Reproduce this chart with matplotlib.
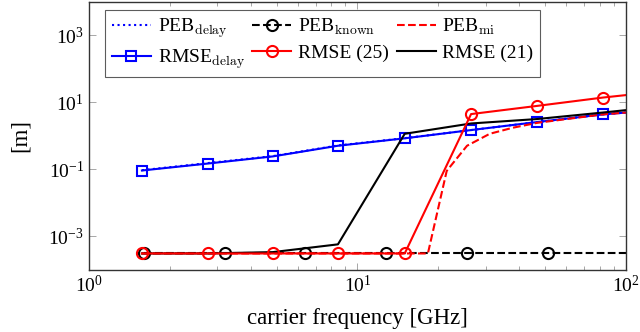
import numpy as np
import matplotlib
matplotlib.use('Agg')
import matplotlib.pyplot as plt

plt.rcParams['font.family'] = ['Liberation Serif', 'DejaVu Serif']
plt.rcParams['mathtext.fontset'] = 'cm'

# frequencies [GHz] of the marked points (last one is the end of the line)
f_main = [1.575, 2.77, 4.84, 8.46, 15.0, 26.5, 46.7, 82.0, 100.0]
rmse_delay = [0.093, 0.15, 0.245, 0.51, 0.85, 1.5, 2.6, 4.4, 5.0]
peb_delay = [0.095, 0.155, 0.25, 0.52, 0.86, 1.5, 2.6, 4.4, 5.0]
rmse_25 = [3.1e-4, 3.1e-4, 3.1e-4, 3.1e-4, 3.1e-4, 4.5, 7.9, 14.0, 16.6]
rmse_21 = [3.1e-4, 3.1e-4, 3.4e-4, 5.8e-4, 1.16, 2.36, 3.2, 5.0, 5.9]

f_known = [1.6, 3.2, 6.4, 12.8, 25.6, 51.2, 100.0]
peb_known = [3.1e-4, 3.1e-4, 3.1e-4, 3.1e-4, 3.1e-4, 3.1e-4, 3.1e-4]

f_mi = [1.575, 18.3, 21.5, 22.3, 25.6, 31.1, 37.9, 46.7, 82.0, 100.0]
peb_mi = [3.1e-4, 3.1e-4, 0.09, 0.13, 0.51, 1.16, 1.76, 2.46, 4.4, 5.0]

fig = plt.figure(figsize=(6.4, 3.32), dpi=100)
ax = fig.add_axes([0.139, 0.187, 0.839, 0.807])

lw = 1.5
h1, = ax.plot(f_main, peb_delay, ':', color='blue', lw=lw, label=r'PEB$_{\mathrm{delay}}$')
h4, = ax.plot(f_main, rmse_delay, '-', color='blue', lw=lw, marker='s', ms=7, mfc='none',
              mew=1.5, markevery=list(range(8)), label=r'RMSE$_{\mathrm{delay}}$')
h2, = ax.plot(f_known, peb_known, '--', color='black', lw=lw, marker='o', ms=8, mfc='none',
              mew=1.5, markevery=list(range(6)), label=r'PEB$_{\mathrm{known}}$')
h3, = ax.plot(f_mi, peb_mi, '--', color='red', lw=lw, label=r'PEB$_{\mathrm{mi}}$')
h6, = ax.plot(f_main, rmse_21, '-', color='black', lw=lw, label='RMSE (21)')
h5, = ax.plot(f_main, rmse_25, '-', color='red', lw=lw, marker='o', ms=8, mfc='none',
              mew=1.5, markevery=list(range(8)), label='RMSE (25)')

ax.set_xscale('log')
ax.set_yscale('log')
ax.set_xlim(1, 100)
ax.set_ylim(1e-4, 1e4)
ax.set_yticks([1e-3, 1e-1, 1e1, 1e3])
ax.yaxis.set_minor_locator(matplotlib.ticker.NullLocator())
ax.tick_params(which='both', direction='in', top=True, right=True, colors='#999999',
               labelcolor='black', labelsize=14, width=0.6)
ax.tick_params(which='major', length=5)
ax.tick_params(which='minor', length=3)
for s in ax.spines.values():
    s.set_linewidth(1.0)
    s.set_color('#333333')

ax.set_xlabel('carrier frequency [GHz]', fontsize=16.5, labelpad=9)
ax.set_ylabel('[m]', fontsize=16.5, labelpad=13)

leg = ax.legend(handles=[h1, h4, h2, h5, h3, h6], ncol=3, loc='upper left',
                bbox_to_anchor=(0.03, 0.97), borderaxespad=0, fontsize=14, frameon=True,
                fancybox=False, edgecolor='#333333', handlelength=2.0, handletextpad=0.35,
                columnspacing=0.4, labelspacing=0.35, borderpad=0.35)
leg.get_frame().set_linewidth(0.8)

fig.savefig('out.png', dpi=100)
